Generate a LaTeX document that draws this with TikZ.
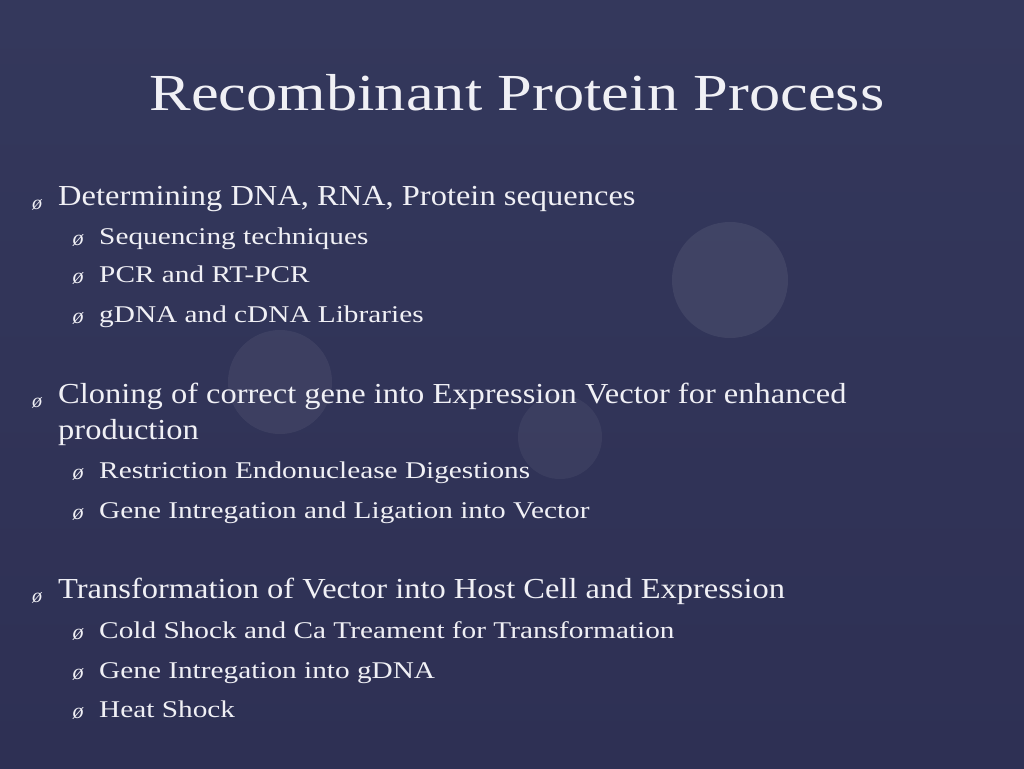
\documentclass[tikz,border=0pt]{standalone}
\usepackage{fontspec}
\setmainfont{Liberation Serif}
\definecolor{bgtop}{RGB}{52,56,92}
\definecolor{bgbot}{RGB}{46,48,84}
\definecolor{txt}{RGB}{240,240,245}
\begin{document}
\begin{tikzpicture}[x=1pt,y=-1pt,
  lone/.style={anchor=mid west,text=txt,font=\fontsize{29}{34}\selectfont,align=left,inner sep=0pt,xscale=1.12},
  ltwo/.style={anchor=mid west,text=txt,font=\fontsize{24}{28}\selectfont,inner sep=0pt,xscale=1.22},
  bone/.style={anchor=center,text=txt,font=\itshape\fontsize{20}{20}\selectfont,inner sep=0pt},
  btwo/.style={anchor=center,text=txt,font=\itshape\fontsize{22}{22}\selectfont,inner sep=0pt}]
\useasboundingbox (0,0) rectangle (1024,768);
\shade[top color=bgtop,bottom color=bgbot] (0,0) rectangle (1024,768);
\fill[white,opacity=0.07] (730,280) circle (58);
\fill[white,opacity=0.06] (280,382) circle (52);
\fill[white,opacity=0.05] (560,437) circle (42);
\node[text=txt,font=\fontsize{52}{58}\selectfont,xscale=1.2] (title) at (517,93) {Recombinant Protein Process};
\node[bone] (b1) at (37,205) {ø};
\node[lone] (l1) at (58,203) {Determining DNA, RNA, Protein sequences};
\node[bone] (b2) at (37,403) {ø};
\node[lone] (lc) at (58,401) {Cloning of correct gene into Expression Vector for enhanced};
\node[lone] (lc2) at (58,437) {production};
\node[bone] (b3) at (37,598) {ø};
\node[lone] (l3) at (58,596) {Transformation of Vector into Host Cell and Expression};
\foreach \y/\t [count=\i] in {238/Sequencing techniques,276/PCR and RT-PCR,316/gDNA and cDNA Libraries,472/Restriction Endonuclease Digestions,512/Gene Intregation and Ligation into Vector,632/Cold Shock and Ca Treament for Transformation,672/Gene Intregation into gDNA,711/Heat Shock}{
  \node[btwo] (s\i) at (78,\y+2) {ø};
  \node[ltwo] (t\i) at (99,\y+4) {\t};}
\end{tikzpicture}
\end{document}
